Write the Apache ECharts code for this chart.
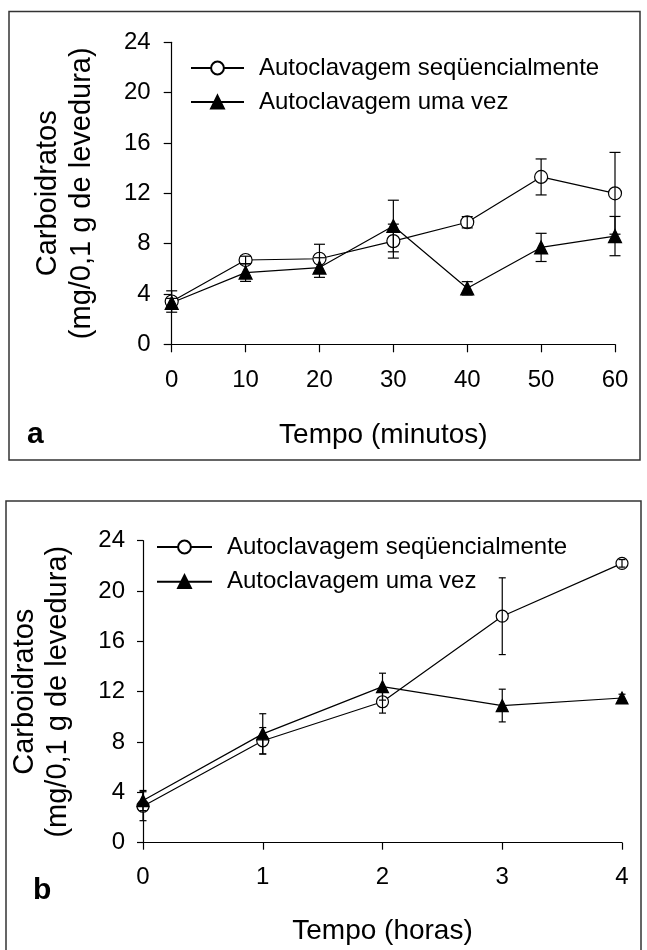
<!DOCTYPE html>
<html>
<head>
<meta charset="utf-8">
<script src="https://cdn.jsdelivr.net/npm/echarts@6/dist/echarts.min.js"></script>
<style>
  html, body { margin: 0; padding: 0; background: #fff; }
  #chart { width: 647px; height: 950px; }
</style>
</head>
<body>
<div id="chart"></div>
<script>
// Panel a: time in minutes
const minutes = [0, 10, 20, 30, 40, 50, 60];
const seqMin = [3.4, 6.7, 6.8, 8.2, 9.7, 13.3, 12.0];
const seqMinErr = [0.85, 0.3, 1.15, 1.35, 0.45, 1.43, 3.25];
const onceMin = [3.3, 5.7, 6.1, 9.4, 4.45, 7.7, 8.6];
const onceMinErr = [0.35, 0.7, 0.78, 2.05, 0.53, 1.12, 1.56];

// Panel b: time in hours
const hours = [0, 1, 2, 3, 4];
const seqHour = [2.9, 8.1, 11.2, 18.0, 22.2];
const seqHourErr = [1.15, 1.05, 0.9, 3.05, 0.3];
const onceHour = [3.35, 8.65, 12.4, 10.9, 11.5];
const onceHourErr = [0.8, 1.6, 1.07, 1.3, 0.3];

const yTicks = { min: 0, max: 24, interval: 4 };
const NAME_SEQ = 'Autoclavagem seqüencialmente';
const NAME_ONCE = 'Autoclavagem uma vez';
const FONT = "'Liberation Sans', Arial, sans-serif";

const chart = echarts.init(document.getElementById('chart'), null, { renderer: 'canvas' });

function pairs(xs, ys) { return xs.map((x, i) => [x, ys[i]]); }

function lineSeries(name, xs, ys, symbol, size, idx) {
  const open = symbol === 'circle';
  return {
    name: name, type: 'line', xAxisIndex: idx, yAxisIndex: idx,
    data: pairs(xs, ys),
    symbol: symbol, symbolSize: size, showAllSymbol: true,
    lineStyle: { color: '#000', width: 1.2 },
    itemStyle: { color: open ? '#fff' : '#000', borderColor: '#000', borderWidth: 1.2, opacity: 1 },
    emphasis: { disabled: true },
    animation: false, z: 3
  };
}

function errorSeries(xs, ys, errs, capHalf, idx) {
  return {
    type: 'custom', xAxisIndex: idx, yAxisIndex: idx,
    data: xs.map((x, i) => [x, ys[i] - errs[i], ys[i] + errs[i]]),
    encode: { x: 0, y: [1, 2] },
    renderItem: function (params, api) {
      const lo = api.coord([api.value(0), api.value(1)]);
      const hi = api.coord([api.value(0), api.value(2)]);
      const st = { stroke: '#000', lineWidth: 1.2 };
      return {
        type: 'group',
        children: [
          { type: 'line', shape: { x1: lo[0], y1: lo[1], x2: hi[0], y2: hi[1] }, style: st },
          { type: 'line', shape: { x1: hi[0] - capHalf, y1: hi[1], x2: hi[0] + capHalf, y2: hi[1] }, style: st },
          { type: 'line', shape: { x1: lo[0] - capHalf, y1: lo[1], x2: lo[0] + capHalf, y2: lo[1] }, style: st }
        ]
      };
    },
    silent: true, animation: false, z: 4
  };
}

function xAxis(idx, max, interval, name, gap, tickLen, margin, pad) {
  return {
    type: 'value', gridIndex: idx, min: 0, max: max, interval: interval,
    axisLine: { lineStyle: { color: '#000', width: 1.2 } },
    axisTick: { show: true, inside: false, length: tickLen, lineStyle: { color: '#000', width: 1.2 } },
    axisLabel: { color: '#000', fontSize: 24, fontFamily: FONT, margin: margin, lineHeight: 24 },
    splitLine: { show: false },
    name: name, nameLocation: 'middle', nameGap: gap,
    nameTextStyle: { color: '#000', fontSize: 28, fontFamily: FONT, lineHeight: 28, padding: pad }
  };
}

function yAxis(idx, gap, tickLen, margin, lh) {
  return {
    type: 'value', gridIndex: idx, min: yTicks.min, max: yTicks.max, interval: yTicks.interval,
    axisLine: { show: true, lineStyle: { color: '#000', width: 1.2 } },
    axisTick: { show: true, inside: false, length: tickLen, lineStyle: { color: '#000', width: 1.2 } },
    axisLabel: { color: '#000', fontSize: 24, fontFamily: FONT, margin: margin },
    splitLine: { show: false },
    name: 'Carboidratos\n(mg/0,1 g de levedura)', nameLocation: 'middle', nameGap: gap,
    nameTextStyle: { color: '#000', fontSize: 29, fontFamily: FONT, lineHeight: lh }
  };
}

function legend(idx, left, top, iw, gap) {
  return {
    data: [NAME_SEQ, NAME_ONCE], orient: 'vertical', left: left, top: top,
    itemWidth: iw, itemHeight: 16, itemGap: gap, padding: 0,
    selectedMode: false,
    textStyle: { color: '#000', fontSize: 24, fontFamily: FONT, lineHeight: 24, padding: [0, 0, 0, 10] }
  };
}

const option = {
  backgroundColor: '#fff',
  animation: false,
  grid: [
    { left: 171.7, top: 42.3, width: 443.3, height: 302 },
    { left: 140.5, top: 540.7, width: 481.5, height: 302 }
  ],
  xAxis: [
    xAxis(0, 60, 10, 'Tempo (minutos)', 77, 8, 24, [0, 20, 0, 0]),
    xAxis(1, 4, 1, 'Tempo (horas)', 75, 7, 23, 0)
  ],
  yAxis: [
    yAxis(0, 73, 8, 21, 34),
    yAxis(1, 69, 6, 18, 33)
  ],
  legend: [
    legend(0, 190, 56, 53, 10),
    legend(1, 156, 535, 55, 10.7)
  ],
  series: [
    lineSeries(NAME_SEQ, minutes, seqMin, 'circle', 13, 0),
    lineSeries(NAME_ONCE, minutes, onceMin, 'triangle', 13, 0),
    errorSeries(minutes, seqMin, seqMinErr, 5.5, 0),
    errorSeries(minutes, onceMin, onceMinErr, 5.5, 0),
    lineSeries(NAME_SEQ, hours, seqHour, 'circle', 12, 1),
    lineSeries(NAME_ONCE, hours, onceHour, 'triangle', 12, 1),
    errorSeries(hours, seqHour, seqHourErr, 3.5, 1),
    errorSeries(hours, onceHour, onceHourErr, 3.5, 1)
  ],
  graphic: [
    // panel frames
    { type: 'rect', shape: { x: 9, y: 11.5, width: 631, height: 448.5 },
      style: { fill: 'none', stroke: '#333', lineWidth: 1.5 }, silent: true, z: 0 },
    { type: 'rect', shape: { x: 6, y: 501, width: 635, height: 470 },
      style: { fill: 'none', stroke: '#333', lineWidth: 1.5 }, silent: true, z: 0 },
    // panel letters
    { type: 'text', left: 27, top: 420,
      style: { text: 'a', fill: '#000', font: "bold 30px 'Liberation Sans', Arial, sans-serif" }, z: 5 },
    { type: 'text', left: 33, top: 876,
      style: { text: 'b', fill: '#000', font: "bold 30px 'Liberation Sans', Arial, sans-serif" }, z: 5 }
  ]
};

chart.setOption(option);
</script>
</body>
</html>
